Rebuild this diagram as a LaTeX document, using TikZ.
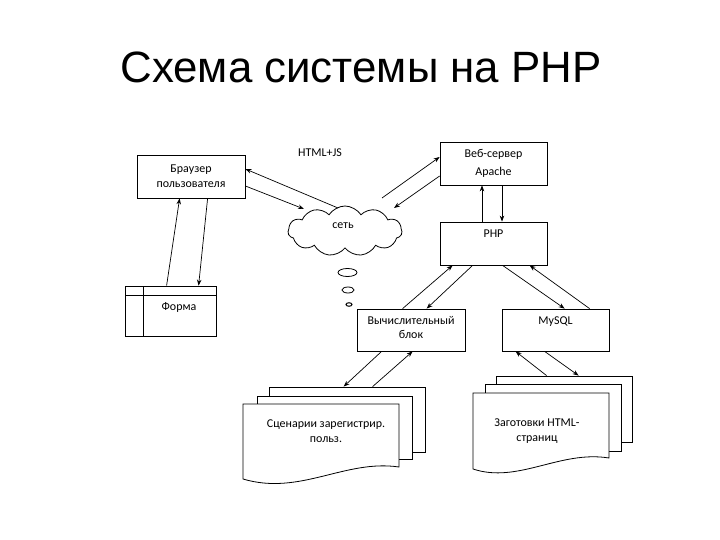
\documentclass[tikz,border=0pt]{standalone}
\usepackage{fontspec}
\setmainfont{Carlito}
\newfontfamily\titlefont{Liberation Sans}
\usetikzlibrary{shapes.symbols,shapes.geometric,arrows.meta}
\begin{document}
\begin{tikzpicture}[x=1bp,y=-1bp,
  line width=0.8bp,
  box/.style={draw, rectangle, inner sep=0pt, align=center, font=\fontsize{12}{15}\selectfont},
  lbl/.style={inner sep=0pt, align=center, font=\fontsize{12}{14.5}\selectfont},
  doc/.style={draw, fill=white, rectangle, inner sep=0pt},
  arr/.style={-{Stealth[length=6bp,width=4.5bp]}, line width=0.7bp},
  bubble/.style={draw, ellipse, inner sep=0pt}
]
\useasboundingbox (0,0) rectangle (720,540);
% title
\node[anchor=base, inner sep=0pt, font=\titlefont\fontsize{44}{50}\selectfont] (title) at (361,83) {Схема системы на PHP};

% boxes
\node[box, minimum width=108bp, minimum height=43bp] (browser) at (191,176.5) {Браузер\\пользователя};
\node[lbl] (htmljs) at (320,153) {HTML+JS};
\node[box, minimum width=107bp, minimum height=43bp] (web) at (493.5,163.5) {Веб-сервер\\[3bp]Apache};
\node[box, minimum width=107bp, minimum height=43bp] (php) at (493.5,243.5) {};
\node[lbl, anchor=north] (phplbl) at (493.5,229) {PHP};
\node[box, minimum width=108bp, minimum height=42bp] (calc) at (411,330) {};
\node[lbl, anchor=north] (calclbl) at (411,316) {Вычислительный\\блок};
\node[box, minimum width=107bp, minimum height=42bp] (mysql) at (555.5,330) {};
\node[lbl, anchor=north] (mysqllbl) at (555.5,316) {MySQL};

% form
\node[box, minimum width=91bp, minimum height=50bp] (forma) at (170.5,311) {};
\draw (143,286) -- (143,336);
\draw (125,295) -- (216,295);
\node[lbl] (formalbl) at (179,307) {Форма};

% cloud
\node[draw, cloud, cloud puffs=11, cloud puff arc=115, cloud ignores aspect, minimum width=114bp, minimum height=50bp, inner sep=0pt] (net) at (345,231) {};
\node[lbl] (netlbl) at (343,226) {сеть};
\node[bubble, minimum width=19bp, minimum height=8bp] (b1) at (347.5,272.5) {};
\node[bubble, minimum width=12bp, minimum height=6bp] (b2) at (348,290) {};
\node[bubble, minimum width=6bp, minimum height=3.5bp, line width=1bp] (b3) at (349,304.5) {};

% left document stack
\node[doc, minimum width=156bp, minimum height=65bp] (scenback) at (347,419.5) {};
\node[doc, minimum width=155bp, minimum height=63bp] (scenmid) at (334.5,427.5) {};
\draw[fill=white] (243,404) -- (399,404) -- (399,467) .. controls (345,459) and (300,496) .. (243,479) -- cycle;
\node[lbl] (scen) at (326,431) {Сценарии зарегистрир.\\польз.};

% right document stack
\node[doc, minimum width=136bp, minimum height=66bp] (tmplback) at (564,409) {};
\node[doc, minimum width=136bp, minimum height=67bp] (tmplmid) at (553,417.5) {};
\draw[fill=white] (473,393) -- (609,393) -- (609,458) .. controls (560,450) and (518,484) .. (473,469) -- cycle;
\node[lbl] (tmpl) at (537,431) {Заготовки HTML-\\страниц};

% connectors
\draw[arr] ([shift={(-7bp,23bp)}]net.center) -- ([yshift=7.5bp]browser.east);
\draw[arr] ([yshift=-9.5bp]browser.east) -- ([shift={(-41bp,22bp)}]net.center);
\draw[arr] ([shift={(37bp,33bp)}]net.center) -- ([yshift=6.5bp]web.west);
\draw[arr] ([yshift=-12.5bp]web.west) -- ([shift={(49bp,23bp)}]net.center);
\draw[arr] ([xshift=-11.5bp]php.north) -- ([xshift=-11.5bp]web.south);
\draw[arr] ([xshift=8.5bp]web.south) -- ([xshift=8.5bp]php.north);
\draw[arr] ([xshift=46bp]calc.north west) -- ([xshift=13bp]php.south west);
\draw[arr] ([xshift=33bp]php.south west) -- ([xshift=70bp]calc.north west);
\draw[arr] ([xshift=63bp]php.south west) -- ([xshift=63bp]mysql.north west);
\draw[arr] ([xshift=88bp]mysql.north west) -- ([xshift=90bp]php.south west);
\draw[arr] ([xshift=25bp]calc.south west) -- ([xshift=75bp]scenback.north west);
\draw[arr] ([xshift=104bp]scenback.north west) -- ([xshift=56bp]calc.south west);
\draw[arr] ([xshift=43bp]mysql.south west) -- ([xshift=83bp]tmplback.north west);
\draw[arr] ([xshift=51bp]tmplback.north west) -- ([xshift=14bp]mysql.south west);
\draw[arr] ([xshift=42bp]forma.north west) -- ([xshift=43bp]browser.south west);
\draw[arr] ([xshift=71bp]browser.south west) -- ([xshift=74bp]forma.north west);
\end{tikzpicture}
\end{document}
